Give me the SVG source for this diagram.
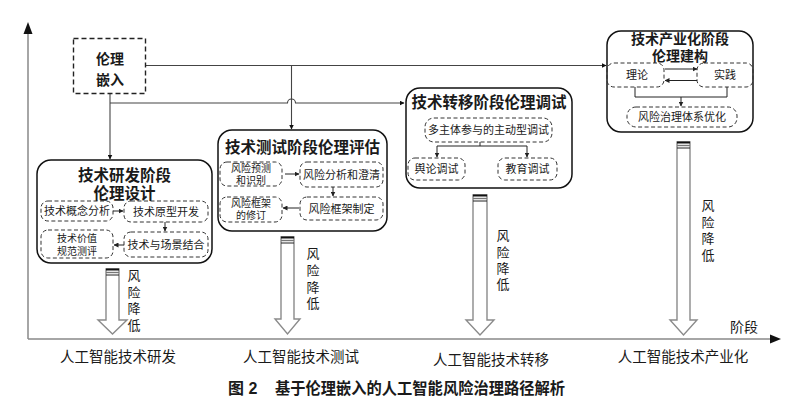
<svg xmlns="http://www.w3.org/2000/svg" width="795" height="412" viewBox="0 0 795 412">
<defs>
<marker id="ah" viewBox="0 0 10 10" refX="9" refY="5" markerWidth="5" markerHeight="5" orient="auto-start-reverse" markerUnits="userSpaceOnUse">
<path d="M0,0 L10,5 L0,10 Z" fill="#111"/>
</marker>
<marker id="ahs" viewBox="0 0 10 10" refX="9" refY="5" markerWidth="5" markerHeight="5" orient="auto-start-reverse" markerUnits="userSpaceOnUse">
<path d="M0,0 L10,5 L0,10 Z" fill="#222"/>
</marker>
<style>
text{font-family:"Liberation Sans","Noto Sans CJK SC",sans-serif;fill:#1a1a1a}
.title{font-size:15.5px;font-weight:bold;text-anchor:middle}
.inner{font-size:11px;text-anchor:middle}
.inner2{font-size:10px;text-anchor:middle}
.lab{font-size:14.5px;text-anchor:middle}
.vt{font-size:13px;text-anchor:middle}
.outer{fill:#fff;stroke:#111;stroke-width:1.5}
.dash{fill:none;stroke:#333;stroke-width:1;stroke-dasharray:4 2.5}
.conn{fill:none;stroke:#444;stroke-width:1.1}
.sm{fill:none;stroke:#222;stroke-width:1}
.axis{fill:none;stroke:#888;stroke-width:1.5}
.risk{fill:#fff;stroke:#8a8a8a;stroke-width:1.4}
</style>
</defs>

<!-- axes -->
<g id="axes">
<line class="axis" x1="28" y1="339" x2="28" y2="30"/>
<path d="M23.5,34 L28,22 L32.5,34 Z" fill="#111"/>
<line class="axis" x1="28" y1="339" x2="772" y2="339"/>
<path d="M770,334.5 L781,339 L770,343.5 Z" fill="#111"/>
<text x="744" y="332" class="lab" style="font-size:14px">阶段</text>
</g>

<!-- connectors -->
<g id="connectors">
<path class="conn" d="M146,65.5 H606" stroke="#888" marker-end="url(#ah)"/>
<path class="conn" d="M291.5,65.5 V129" marker-end="url(#ah)"/>
<path class="conn" d="M110,93 V159" marker-end="url(#ah)"/>
<path class="conn" d="M110,103 H287.5 A4,4 0 0 1 295.5,103 H404" marker-end="url(#ah)"/>
</g>

<!-- 伦理嵌入 -->
<g id="ethics-embed">
<rect x="73.5" y="38.5" width="72" height="55" fill="#fff" stroke="#222" stroke-width="1.4" stroke-dasharray="5 3"/>
<text class="title" style="font-size:14px"><tspan x="110" y="64">伦理</tspan><tspan x="110" y="85">嵌入</tspan></text>
</g>

<!-- 研发 -->
<g id="stage-rd">
<rect class="outer" x="37" y="160" width="175" height="103" rx="14"/>
<text class="title"><tspan x="124.5" y="180.5">技术研发阶段</tspan><tspan x="124.5" y="198.5">伦理设计</tspan></text>
<rect class="dash" x="41" y="201" width="72" height="20" rx="7"/>
<text x="77" y="215" class="inner">技术概念分析</text>
<rect class="dash" x="124" y="201" width="84" height="21" rx="7"/>
<text x="166" y="215.5" class="inner">技术原型开发</text>
<rect class="dash" x="41" y="230" width="72" height="28" rx="7"/>
<text class="inner2"><tspan x="77" y="242">技术价值</tspan><tspan x="77" y="254.5">规范测评</tspan></text>
<rect class="dash" x="124" y="232" width="84" height="25" rx="7"/>
<text x="166" y="248.5" class="inner">技术与场景结合</text>
<path class="sm" d="M113,211 H123" marker-end="url(#ahs)"/>
<path class="sm" d="M165,222 V231" marker-end="url(#ahs)"/>
<path class="sm" d="M124,245 H114" marker-end="url(#ahs)"/>
</g>

<!-- 测试 -->
<g id="stage-test">
<rect class="outer" x="218" y="130" width="169" height="101" rx="14"/>
<text x="302.5" y="153" class="title">技术测试阶段伦理评估</text>
<rect class="dash" x="220" y="162" width="62" height="24" rx="7"/>
<text class="inner2"><tspan x="251" y="172">风险预测</tspan><tspan x="251" y="184">和识别</tspan></text>
<rect class="dash" x="300" y="162" width="83" height="25" rx="7"/>
<text x="341.5" y="178.5" class="inner">风险分析和澄清</text>
<rect class="dash" x="300" y="197" width="83" height="23" rx="7"/>
<text x="341.5" y="212.5" class="inner">风险框架制定</text>
<rect class="dash" x="220" y="197" width="62" height="25" rx="7"/>
<text class="inner2"><tspan x="251" y="207">风险框架</tspan><tspan x="251" y="219">的修订</tspan></text>
<path class="sm" d="M285,174 H299" marker-end="url(#ahs)"/>
<path class="sm" d="M333,187 V196" marker-end="url(#ahs)"/>
<path class="sm" d="M299,208 H283" marker-end="url(#ahs)"/>
</g>

<!-- 转移 -->
<g id="stage-transfer">
<rect class="outer" x="406" y="88" width="166" height="100" rx="14"/>
<text x="489" y="108" class="title">技术转移阶段伦理调试</text>
<rect class="dash" x="425" y="118" width="127" height="24" rx="9"/>
<text x="488.5" y="134" class="inner">多主体参与的主动型调试</text>
<rect class="dash" x="408" y="158" width="57" height="22" rx="7"/>
<text x="436.5" y="173" class="inner">舆论调试</text>
<rect class="dash" x="498" y="158" width="59" height="22" rx="7"/>
<text x="527.5" y="173" class="inner">教育调试</text>
<path class="sm" d="M480,142 V146 M437,146 H527"/>
<path class="sm" d="M437,146 V157" marker-end="url(#ahs)"/>
<path class="sm" d="M527,146 V157" marker-end="url(#ahs)"/>
</g>

<!-- 产业化 -->
<g id="stage-industry">
<rect class="outer" x="607" y="31" width="146" height="101" rx="14"/>
<text class="title" style="font-size:14px"><tspan x="680" y="44">技术产业化阶段</tspan><tspan x="680" y="60.5">伦理建构</tspan></text>
<rect class="dash" x="607" y="63" width="57" height="24" rx="7"/>
<text x="637" y="79" class="inner">理论</text>
<rect class="dash" x="697" y="63" width="56" height="24" rx="7"/>
<text x="725" y="79" class="inner">实践</text>
<path class="sm" d="M665,69 H697" marker-end="url(#ahs)"/>
<path class="sm" d="M697,80.5 H665" marker-end="url(#ahs)"/>
<path class="sm" d="M635,87 V97 H727 V87"/>
<path class="sm" d="M681,97 V106" marker-end="url(#ahs)"/>
<rect class="dash" x="627" y="107" width="110" height="20" rx="9"/>
<text x="682" y="121" class="inner">风险治理体系优化</text>
</g>

<!-- risk arrows -->
<g id="risk-rd">
<path class="risk" d="M106,269 V320 H98 L112.5,334 L127,320 H119 V269 Z"/>
<rect x="106" y="268.5" width="13" height="2" fill="#111"/>
<line x1="106" y1="272.5" x2="119" y2="272.5" stroke="#777" stroke-width="1.4"/>
<line x1="106" y1="275" x2="119" y2="275" stroke="#222" stroke-width="1"/>
<text class="vt"><tspan x="134" y="280">风</tspan><tspan x="134" y="297">险</tspan><tspan x="134" y="313">降</tspan><tspan x="134" y="330">低</tspan></text>
</g>
<g id="risk-test">
<path class="risk" d="M281,237 V319 H275 L287.5,334 L300,319 H294 V237 Z"/>
<rect x="281" y="236.5" width="13" height="2" fill="#111"/>
<line x1="281" y1="240.5" x2="294" y2="240.5" stroke="#777" stroke-width="1.4"/>
<line x1="281" y1="243" x2="294" y2="243" stroke="#222" stroke-width="1"/>
<text class="vt"><tspan x="313" y="258">风</tspan><tspan x="313" y="275">险</tspan><tspan x="313" y="292">降</tspan><tspan x="313" y="308">低</tspan></text>
</g>
<g id="risk-transfer">
<path class="risk" d="M473,195 V320 H466 L480,335 L494,320 H487 V195 Z"/>
<rect x="473" y="194.5" width="14" height="2" fill="#111"/>
<line x1="473" y1="198.5" x2="487" y2="198.5" stroke="#777" stroke-width="1.4"/>
<line x1="473" y1="201" x2="487" y2="201" stroke="#222" stroke-width="1"/>
<text class="vt"><tspan x="503" y="240">风</tspan><tspan x="503" y="257">险</tspan><tspan x="503" y="273">降</tspan><tspan x="503" y="289">低</tspan></text>
</g>
<g id="risk-industry">
<path class="risk" d="M677,142 V320 H670 L683.5,335 L697,320 H690 V142 Z"/>
<rect x="677" y="141.5" width="13" height="2" fill="#111"/>
<line x1="677" y1="145.5" x2="690" y2="145.5" stroke="#777" stroke-width="1.4"/>
<line x1="677" y1="148" x2="690" y2="148" stroke="#222" stroke-width="1"/>
<text class="vt"><tspan x="708" y="210">风</tspan><tspan x="708" y="227">险</tspan><tspan x="708" y="243">降</tspan><tspan x="708" y="260">低</tspan></text>
</g>

<!-- stage labels -->
<g id="labels">
<text x="118" y="362" class="lab">人工智能技术研发</text>
<text x="301" y="362" class="lab">人工智能技术测试</text>
<text x="491" y="365" class="lab">人工智能技术转移</text>
<text x="683" y="362" class="lab">人工智能技术产业化</text>
<text x="228" y="394" style="font-size:16px;font-weight:bold">图 2</text>
<text x="275" y="394" style="font-size:16px;font-weight:bold" textLength="290" lengthAdjust="spacingAndGlyphs">基于伦理嵌入的人工智能风险治理路径解析</text>
</g>
</svg>
